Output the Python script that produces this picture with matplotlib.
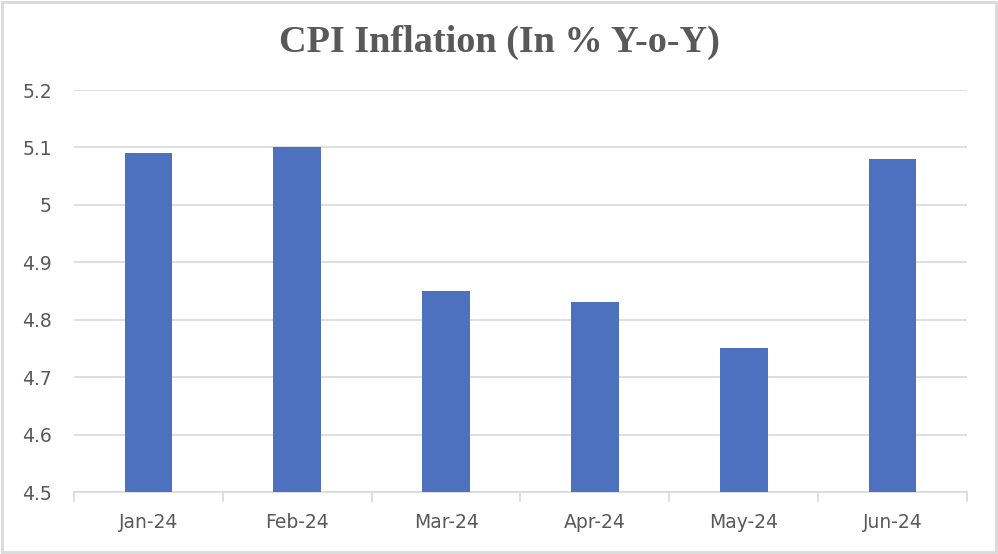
import matplotlib.pyplot as plt
from matplotlib.patches import Rectangle
import numpy as np

# CPI inflation, % y-o-y
months = ["Jan-24", "Feb-24", "Mar-24", "Apr-24", "May-24", "Jun-24"]
cpi = [5.09, 5.10, 4.85, 4.83, 4.75, 5.08]
y_ticks = [4.5, 4.6, 4.7, 4.8, 4.9, 5.0, 5.1, 5.2]
y_tick_labels = ["4.5", "4.6", "4.7", "4.8", "4.9", "5", "5.1", "5.2"]

grey_text = "#595959"
grid_col = "#d9d9d9"

fig = plt.figure(figsize=(9.98, 5.54), dpi=100)
ax = fig.add_axes([74 / 998, 1 - 492 / 554, (967 - 74) / 998, (492 - 90) / 554])

x = np.arange(len(months))
ax.bar(x, [v - 4.5 for v in cpi], bottom=4.5, width=0.32, color="#4e71bf", zorder=3)

ax.set_xlim(-0.5, len(months) - 0.5)
ax.set_ylim(4.5, 5.2)
ax.set_yticks(y_ticks)
ax.set_yticklabels(y_tick_labels)
ax.set_xticks(x)
ax.set_xticklabels(months)
ax.tick_params(axis="both", colors=grey_text, labelsize=13.5)
ax.tick_params(axis="y", length=0, pad=16)
ax.tick_params(axis="x", length=0, pad=15)
# tick marks at category boundaries
ax.set_xticks(np.arange(-0.5, len(months)), minor=True)
ax.tick_params(axis="x", which="minor", length=7, color=grid_col, width=1.2)

ax.grid(axis="y", color=grid_col, linewidth=1.2, zorder=0)
for s in ["top", "right", "left"]:
    ax.spines[s].set_visible(False)
ax.spines["bottom"].set_color(grid_col)
ax.spines["bottom"].set_linewidth(1.2)

fig.text(0.5, 1 - 42 / 554, "CPI Inflation (In % Y-o-Y)", ha="center", va="center",
         fontsize=27.5, fontweight="bold", color=grey_text, family="Liberation Serif")

# outer chart border
fig.patches.append(Rectangle((0.002, 0.003), 0.996, 0.994, transform=fig.transFigure,
                             fill=False, edgecolor="#d9d9d9", linewidth=2))

fig.savefig("out.png", dpi=100)
